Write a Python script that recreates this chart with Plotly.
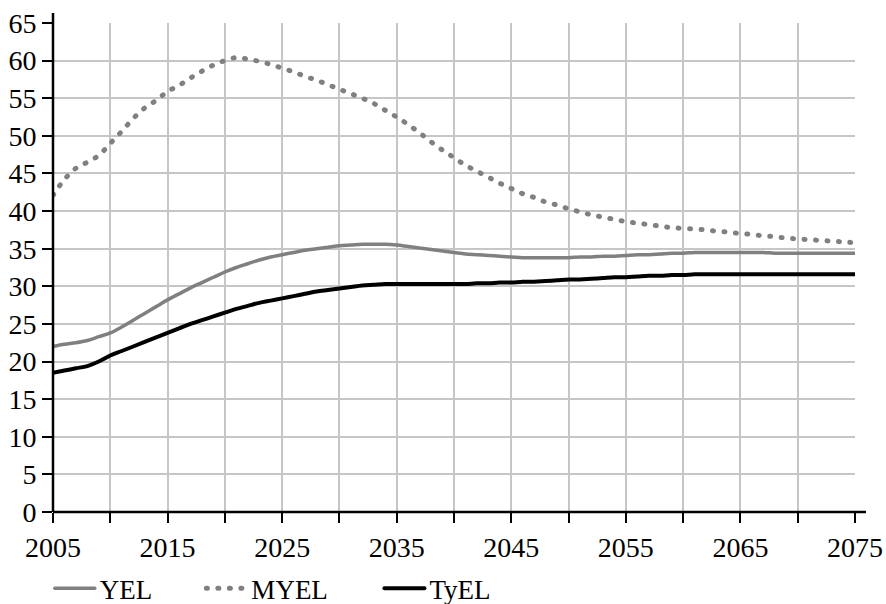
import plotly.graph_objects as go

years = list(range(2005, 2076))

yel = [22.0, 22.3, 22.5, 22.8, 23.3, 23.8, 24.6, 25.5, 26.4, 27.3,
       28.2, 29.0, 29.8, 30.5, 31.2, 31.9, 32.5, 33.0, 33.5, 33.9,
       34.2, 34.5, 34.8, 35.0, 35.2, 35.4, 35.5, 35.6, 35.6, 35.6,
       35.5, 35.3, 35.1, 34.9, 34.7, 34.5, 34.3, 34.2, 34.1, 34.0,
       33.9, 33.8, 33.8, 33.8, 33.8, 33.8, 33.9, 33.9, 34.0, 34.0,
       34.1, 34.2, 34.2, 34.3, 34.4, 34.4, 34.5, 34.5, 34.5, 34.5,
       34.5, 34.5, 34.5, 34.4, 34.4, 34.4, 34.4, 34.4, 34.4, 34.4,
       34.4]

myel = [42.1, 44.2, 45.7, 46.5, 47.4, 49.0, 50.6, 52.3, 53.7, 54.7,
        55.9, 56.7, 57.7, 58.6, 59.4, 60.0, 60.4, 60.2, 59.9, 59.5,
        59.0, 58.5, 57.9, 57.4, 56.8, 56.2, 55.6, 55.0, 54.3, 53.4,
        52.5, 51.5, 50.4, 49.2, 48.1, 47.1, 46.1, 45.3, 44.5, 43.7,
        43.0, 42.3, 41.8, 41.2, 40.8, 40.3, 39.9, 39.5, 39.2, 38.9,
        38.6, 38.4, 38.2, 38.0, 37.8, 37.7, 37.6, 37.5, 37.3, 37.2,
        37.0, 36.9, 36.7, 36.6, 36.4, 36.3, 36.2, 36.1, 36.0, 35.9,
        35.8]

tyel = [18.5, 18.8, 19.1, 19.4, 20.0, 20.8, 21.4, 22.0, 22.6, 23.2,
        23.8, 24.4, 25.0, 25.5, 26.0, 26.5, 27.0, 27.4, 27.8, 28.1,
        28.4, 28.7, 29.0, 29.3, 29.5, 29.7, 29.9, 30.1, 30.2, 30.3,
        30.3, 30.3, 30.3, 30.3, 30.3, 30.3, 30.3, 30.4, 30.4, 30.5,
        30.5, 30.6, 30.6, 30.7, 30.8, 30.9, 30.9, 31.0, 31.1, 31.2,
        31.2, 31.3, 31.4, 31.4, 31.5, 31.5, 31.6, 31.6, 31.6, 31.6,
        31.6, 31.6, 31.6, 31.6, 31.6, 31.6, 31.6, 31.6, 31.6, 31.6,
        31.6]

x_ticks = list(range(2005, 2076, 10))
y_ticks = list(range(0, 66, 5))

FONT = "Liberation Serif"
GRID = "#c6c6c6"

fig = go.Figure()
fig.add_trace(go.Scatter(x=years, y=yel, name="YEL", mode="lines",
                         line=dict(color="#808080", width=3.5, shape="spline"),
                         legend="legend"))
fig.add_trace(go.Scatter(x=years, y=myel, name="MYEL", mode="lines",
                         line=dict(color="#808080", width=5, dash="1px,10.5px", shape="spline"),
                         legend="legend2"))
fig.add_trace(go.Scatter(x=years, y=tyel, name="TyEL", mode="lines",
                         line=dict(color="#000000", width=4, shape="spline"),
                         legend="legend3"))

leg_common = dict(orientation="h", yanchor="middle", y=-0.157, xanchor="left",
                  font=dict(family=FONT, size=27, color="black"),
                  bgcolor="rgba(0,0,0,0)", itemwidth=40)

fig.update_layout(
    width=886, height=604,
    margin=dict(l=53, r=31, t=23, b=92, autoexpand=False),
    paper_bgcolor="white", plot_bgcolor="white",
    font=dict(family=FONT, size=28, color="black"),
    showlegend=True,
    legend=dict(x=-0.004, **leg_common),
    legend2=dict(x=0.185, **leg_common),
    legend3=dict(x=0.407, **leg_common),
    xaxis=dict(range=[2005, 2075], tickmode="array", tickvals=x_ticks,
               ticktext=[str(v) for v in x_ticks],
               ticks="outside", ticklen=10, tickwidth=2, tickcolor="black",
               showgrid=True, gridcolor=GRID, gridwidth=2, zeroline=False,
               showline=False, automargin=False,
               minor=dict(dtick=5, tick0=2005, ticks="outside", ticklen=10, tickwidth=2,
                          tickcolor="black", showgrid=True, gridcolor=GRID, gridwidth=2),
               tickfont=dict(family=FONT, size=28, color="black")),
    yaxis=dict(range=[0, 65], tickmode="array", tickvals=y_ticks,
               ticktext=[str(v) for v in y_ticks],
               ticks="outside", ticklen=10, tickwidth=2,
               tickcolor="black", showgrid=True, gridcolor=GRID, gridwidth=2,
               zeroline=False, showline=False, automargin=False,
               tickfont=dict(family=FONT, size=28, color="black")),
)

# axis lines (extending slightly beyond the plotted range, as in the reference)
fig.add_shape(type="line", xref="paper", yref="paper", x0=0, x1=1.0137, y0=0, y1=0,
              line=dict(color="black", width=2.5))
fig.add_shape(type="line", xref="paper", yref="paper", x0=0, x1=0, y0=0, y1=1.0204,
              line=dict(color="black", width=2.5))

post = """
document.body.style.margin = '0';
document.body.style.padding = '0';
var s = document.createElement('style');
s.textContent = 'html, body {margin:0 !important; padding:0 !important; overflow:hidden;} path.js-line {stroke-linecap: round !important;}';
document.head.appendChild(s);
"""
fig.write_html("out.html", post_script=post, config={"displayModeBar": False})
